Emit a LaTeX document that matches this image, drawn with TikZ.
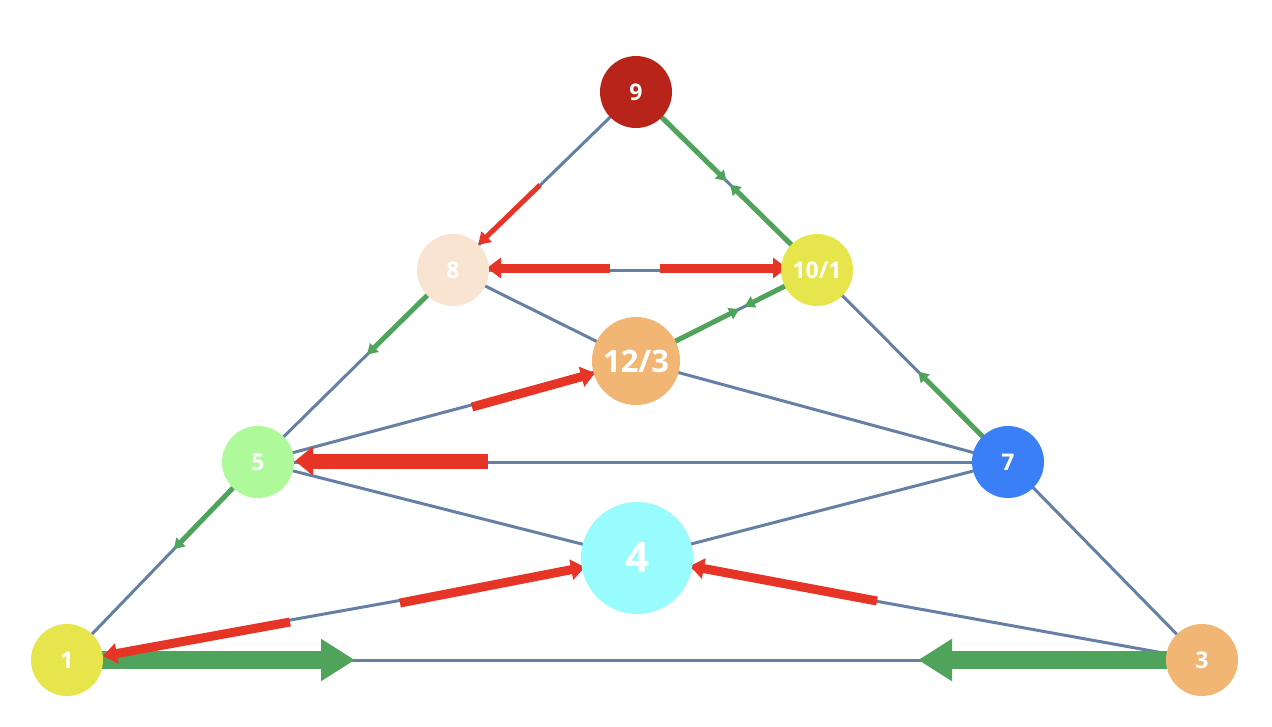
\documentclass[tikz,border=0pt]{standalone}
\usepackage{fontspec}
\setmainfont{Open Sans}
\usetikzlibrary{arrows.meta,calc}
\definecolor{ln}{HTML}{6680A5}
\definecolor{gr}{HTML}{4FA35A}
\definecolor{rd}{HTML}{E63426}
\begin{document}
\begin{tikzpicture}[x=1pt,y=-1pt,
 nd/.style={circle,inner sep=0pt,text=white,font=\bfseries\fontsize{23}{23}\selectfont},
 ln/.style={draw=ln,line width=3pt},
 g/.style={draw=gr,line width=5pt,-{Triangle[length=10pt,width=12pt]}},
 G/.style={draw=gr,line width=18pt,-{Triangle[length=34pt,width=40pt]}},
 r/.style={draw=rd,line width=9pt,-{Triangle[length=14pt,width=20pt]}},
 rs/.style={draw=rd,line width=5pt,-{Triangle[length=12pt,width=14pt]}},
 R/.style={draw=rd,line width=15pt,-{Triangle[length=18pt,width=28pt]}}]
\useasboundingbox (0,0) rectangle (1272,726);
\coordinate (c9) at (636,92);
\coordinate (c8) at (453,270);
\coordinate (c10) at (817,270);
\coordinate (c12) at (636,361);
\coordinate (c5) at (258,462);
\coordinate (c7) at (1008,462);
\coordinate (c4) at (637,558);
\coordinate (c1) at (67,660);
\coordinate (c3) at (1202,660);
% lines
\foreach \a/\b in {c9/c8,c9/c10,c8/c10,c8/c5,c10/c7,c8/c12,c12/c7,c5/c12,c5/c7,c5/c4,c4/c7,c1/c5,c1/c4,c4/c3,c1/c3,c3/c7,c10/c12}
  \draw[ln] (\a) -- (\b);
% green
\draw[g] (c9) -- ($(c9)!0.50!(c10)$);
\draw[g] (c10) -- ($(c10)!0.48!(c9)$);
\draw[g] (c12) -- ($(c12)!0.57!(c10)$);
\draw[g] (c10) -- ($(c10)!0.40!(c12)$);
\draw[g] (c7) -- ($(c7)!0.47!(c10)$);
\draw[g] (c8) -- ($(c8)!0.44!(c5)$);
\draw[g] (c5) -- ($(c5)!0.44!(c1)$);
\draw[G] (c1) -- (355,660);
\draw[G] (c3) -- (918,660);
% red
\draw[rs] (540,185) -- (478,245);
\draw[r] (610,268) -- (487,268);
\draw[r] (660,268) -- (787,268);
\draw[r] (472,407) -- (595,373);
\draw[R] (488,461) -- (295,461);
\draw[r] (400,603) -- (585,567);
\draw[r] (290,622) -- (103,656);
\draw[r] (877,601) -- (690,566);
% nodes
\node[nd,fill={rgb,255:red,184;green,36;blue,26},minimum size=72pt] (n9) at (c9) {9};
\node[nd,fill={rgb,255:red,248;green,228;blue,208},minimum size=72pt] (n8) at (c8) {8};
\node[nd,fill={rgb,255:red,230;green,229;blue,76},minimum size=72pt] (n10) at (c10) {10/1};
\node[nd,fill={rgb,255:red,241;green,181;blue,116},minimum size=88pt,font=\bfseries\fontsize{31}{31}\selectfont] (n12) at (c12) {12/3};
\node[nd,fill={rgb,255:red,174;green,250;blue,154},minimum size=72pt] (n5) at (c5) {5};
\node[nd,fill={rgb,255:red,58;green,127;blue,246},minimum size=72pt] (n7) at (c7) {7};
\node[nd,fill={rgb,255:red,152;green,252;blue,252},minimum size=112pt,font=\bfseries\fontsize{42}{42}\selectfont] (n4) at (c4) {4};
\node[nd,fill={rgb,255:red,230;green,229;blue,76},minimum size=72pt] (n1) at (c1) {1};
\node[nd,fill={rgb,255:red,241;green,181;blue,116},minimum size=72pt] (n3) at (c3) {3};
\end{tikzpicture}
\end{document}
